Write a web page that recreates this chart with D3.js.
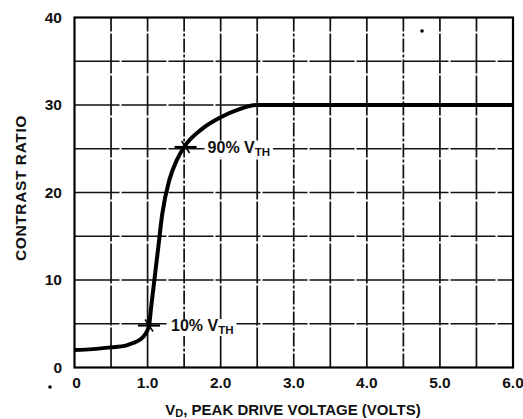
<!DOCTYPE html>
<html>
<head>
<meta charset="utf-8">
<script src="https://cdnjs.cloudflare.com/ajax/libs/d3/7.8.5/d3.min.js"></script>
<style>
  html, body { margin: 0; padding: 0; background: #fff; }
  text { font-family: "Liberation Sans", Arial, sans-serif; font-weight: bold; fill: #111; }
</style>
</head>
<body>
<div id="chart"></div>
<script>
// contrast ratio vs peak drive voltage
var voltage  = [0, 0.25, 0.5, 0.7, 0.8, 0.9, 0.95, 1.0, 1.02, 1.05, 1.1, 1.15, 1.2, 1.3, 1.4, 1.5, 1.75, 2.0, 2.25, 2.5, 3.0, 6.0]
var contrast = [2.0, 2.1, 2.3, 2.5, 2.8, 3.2, 3.6, 4.3, 4.8, 7.0, 10.5, 14.0, 17.5, 21.5, 23.7, 25.2, 27.3, 28.6, 29.5, 30, 30, 30]

var xTicks = [0, 1, 2, 3, 4, 5, 6]
var xTickLabels = ['0', '1.0', '2.0', '3.0', '4.0', '5.0', '6.0']
var yTicks = [0, 10, 20, 30, 40]
var xGrid = d3.range(0.5, 6, 0.5)
var yGrid = [5, 10, 15, 20, 25, 30, 35]

// threshold marks: [voltage, contrast, label]
var marks = [[1.52, 25.2, '90% V'], [1.02, 4.8, '10% V']]

var width = 523, height = 419,
    margins = {top: 17.5, right: 10, bottom: 51.5, left: 74.5},
    svg, plot

var x = d3.scaleLinear().domain([0, 6]).range([margins.left, width - margins.right])
var y = d3.scaleLinear().domain([0, 40]).range([height - margins.bottom, margins.top])

svg = d3.select('#chart').append('svg')
  .attr('width', width)
  .attr('height', height)

plot = svg.append('g')

// grid
plot.selectAll('.vgrid').data(xGrid).enter().append('line')
  .attr('class', 'vgrid')
  .attr('x1', d => x(d)).attr('x2', d => x(d))
  .attr('y1', y(0)).attr('y2', y(40))
  .attr('stroke', '#111')
  .attr('stroke-width', 1.7)
  .attr('stroke-dasharray', (d, i) => i % 3 == 2 ? '14,2,3,2' : '40,2')

plot.selectAll('.hgrid').data(yGrid).enter().append('line')
  .attr('class', 'hgrid')
  .attr('x1', x(0)).attr('x2', x(6))
  .attr('y1', d => y(d)).attr('y2', d => y(d))
  .attr('stroke', '#111')
  .attr('stroke-width', 1.5)
  .attr('stroke-dasharray', '45,2')

// frame
plot.append('rect')
  .attr('x', x(0)).attr('y', y(40))
  .attr('width', x(6) - x(0)).attr('height', y(0) - y(40))
  .attr('fill', 'none')
  .attr('stroke', '#000')
  .attr('stroke-width', 2.2)

// curve
var line = d3.line()
  .x(d => x(d[0]))
  .y(d => y(d[1]))
  .curve(d3.curveMonotoneX)

plot.append('path')
  .datum(d3.zip(voltage, contrast))
  .attr('d', line)
  .attr('fill', 'none')
  .attr('stroke', '#000')
  .attr('stroke-width', 4)
  .attr('stroke-linejoin', 'round')

// threshold marks and labels
marks.forEach(function(m) {
  plot.append('line')
    .attr('x1', x(m[0]) - 11).attr('x2', x(m[0]) + 11)
    .attr('y1', y(m[1])).attr('y2', y(m[1]))
    .attr('stroke', '#000')
    .attr('stroke-width', 2.2)
  plot.append('line')
    .attr('x1', x(m[0]) - 4).attr('x2', x(m[0]) + 4)
    .attr('y1', y(m[1]) - 6).attr('y2', y(m[1]) + 6)
    .attr('stroke', '#000')
    .attr('stroke-width', 1.5)
  var bg = plot.append('rect').attr('fill', '#fff')
  var t = plot.append('text')
    .attr('x', x(m[0]) + 22)
    .attr('y', y(m[1]) + 5.5)
    .attr('font-size', 16)
  t.append('tspan').text(m[2])
  t.append('tspan').attr('font-size', 11.5).attr('dy', 3).text('TH')
  var bb = t.node().getBBox()
  bg.attr('x', bb.x - 3).attr('y', bb.y + 2)
    .attr('width', bb.width + 6).attr('height', bb.height - 2)
})

// tick labels
svg.selectAll('.ylab').data(yTicks).enter().append('text')
  .attr('class', 'ylab')
  .attr('x', 62)
  .attr('y', d => y(d) + 5)
  .attr('text-anchor', 'end')
  .attr('font-size', 15.5)
  .text(d => d)

svg.selectAll('.xlab').data(xTicks).enter().append('text')
  .attr('class', 'xlab')
  .attr('x', (d, i) => x(d) + (i == 0 ? 2 : 0))
  .attr('y', 388)
  .attr('text-anchor', 'middle')
  .attr('font-size', 15.5)
  .text((d, i) => xTickLabels[i])

// axis titles
var xt = svg.append('text')
  .attr('x', 293)
  .attr('y', 415)
  .attr('text-anchor', 'middle')
  .attr('font-size', 15)
xt.append('tspan').text('V')
xt.append('tspan').attr('font-size', 11).attr('dy', 2).text('D')
xt.append('tspan').attr('dy', -2).text(', PEAK DRIVE VOLTAGE (VOLTS)')

svg.append('text')
  .attr('transform', 'translate(26,188) rotate(-90)')
  .attr('text-anchor', 'middle')
  .attr('font-size', 15.5)
  .attr('letter-spacing', 0.6)
  .text('CONTRAST RATIO')

// specks from the original print
svg.append('circle').attr('cx', 50).attr('cy', 387).attr('r', 1.8).attr('fill', '#000')
svg.append('circle').attr('cx', 422).attr('cy', 31).attr('r', 1.8).attr('fill', '#000')
</script>
</body>
</html>
